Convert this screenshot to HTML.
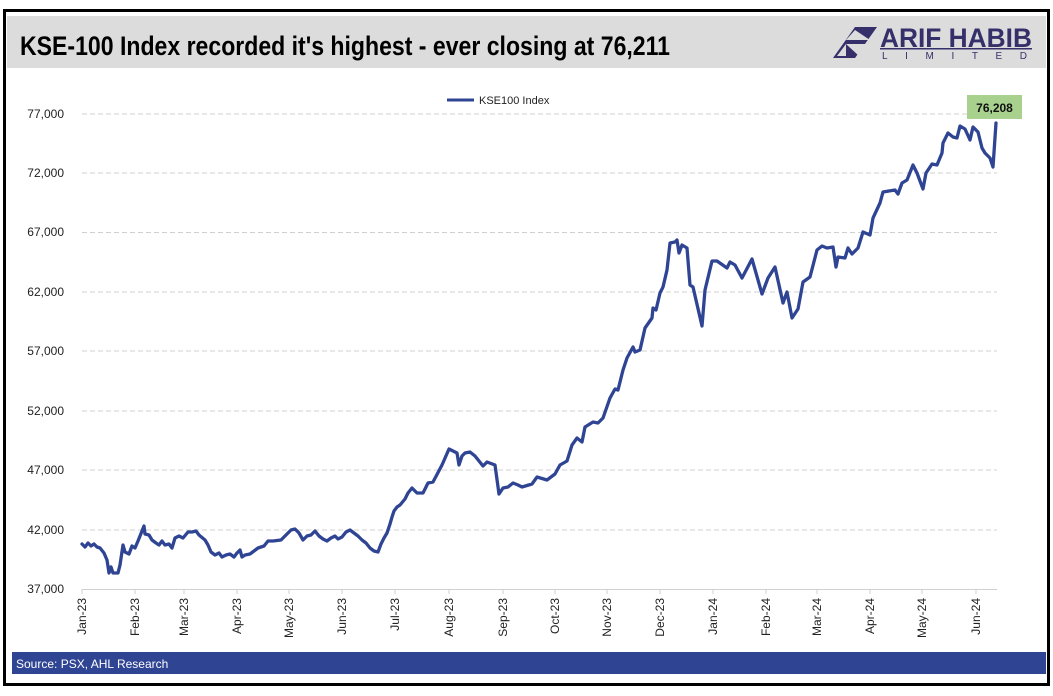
<!DOCTYPE html>
<html><head><meta charset="utf-8"><style>
body{margin:0;background:#fff;width:1053px;height:691px;overflow:hidden;font-family:"Liberation Sans",sans-serif}
</style></head><body>
<svg width="1053" height="691" viewBox="0 0 1053 691" xmlns="http://www.w3.org/2000/svg" font-family="Liberation Sans, sans-serif">
<rect x="0" y="0" width="1053" height="691" fill="#fff"/>
<rect x="4.5" y="10.5" width="1044" height="674" fill="#fff" stroke="#000" stroke-width="3"/>
<rect x="7" y="16" width="1039" height="52" fill="#dcdcdc"/>
<text x="20" y="55" font-size="27" font-weight="bold" fill="#000" textLength="650" lengthAdjust="spacingAndGlyphs">KSE-100 Index recorded it's highest - ever closing at 76,211</text>
<!-- logo -->
<polygon points="833,58 855,27 877,27 855,58" fill="#35306a"/>
<polygon points="846,40 855,30 870,40" fill="#dcdcdc"/>
<polygon points="846,44 870,44 859,56" fill="#dcdcdc"/>
<polygon points="837,56 846,44 846,56" fill="#dcdcdc"/>
<text x="880" y="47" font-size="27" font-weight="bold" fill="#35306a" textLength="152" lengthAdjust="spacingAndGlyphs">ARIF HABIB</text>
<rect x="880" y="48" width="152" height="1.5" fill="#35306a"/>
<text x="882" y="59" font-size="10" fill="#35306a" textLength="145" lengthAdjust="spacing">LIMITED</text>
<!-- grid -->
<g stroke="#d0d0d0" stroke-dasharray="5,3" stroke-width="1">
<line x1="82" y1="114" x2="997" y2="114"/><line x1="82" y1="173" x2="997" y2="173"/><line x1="82" y1="232.5" x2="997" y2="232.5"/><line x1="82" y1="292" x2="997" y2="292"/><line x1="82" y1="351" x2="997" y2="351"/><line x1="82" y1="411" x2="997" y2="411"/><line x1="82" y1="470" x2="997" y2="470"/><line x1="82" y1="530" x2="997" y2="530"/>
</g>
<line x1="82" y1="589.5" x2="997" y2="589.5" stroke="#d0d0d0"/>
<g stroke="#d0d0d0"><line x1="82" y1="589" x2="82" y2="594"/><line x1="135" y1="589" x2="135" y2="594"/><line x1="184" y1="589" x2="184" y2="594"/><line x1="237" y1="589" x2="237" y2="594"/><line x1="289" y1="589" x2="289" y2="594"/><line x1="342" y1="589" x2="342" y2="594"/><line x1="395" y1="589" x2="395" y2="594"/><line x1="449" y1="589" x2="449" y2="594"/><line x1="503" y1="589" x2="503" y2="594"/><line x1="555" y1="589" x2="555" y2="594"/><line x1="607" y1="589" x2="607" y2="594"/><line x1="660" y1="589" x2="660" y2="594"/><line x1="713" y1="589" x2="713" y2="594"/><line x1="766" y1="589" x2="766" y2="594"/><line x1="817" y1="589" x2="817" y2="594"/><line x1="870" y1="589" x2="870" y2="594"/><line x1="922" y1="589" x2="922" y2="594"/><line x1="976" y1="589" x2="976" y2="594"/></g>
<g font-size="12" fill="#222" text-anchor="end">
<text x="64" y="118">77,000</text><text x="64" y="177">72,000</text><text x="64" y="236">67,000</text><text x="64" y="296">62,000</text><text x="64" y="355">57,000</text><text x="64" y="415">52,000</text><text x="64" y="474">47,000</text><text x="64" y="534">42,000</text><text x="64" y="593">37,000</text>
</g>
<g font-size="12" fill="#222" text-anchor="end">
<text transform="translate(86,598) rotate(-90)">Jan-23</text><text transform="translate(139,598) rotate(-90)">Feb-23</text><text transform="translate(188,598) rotate(-90)">Mar-23</text><text transform="translate(241,598) rotate(-90)">Apr-23</text><text transform="translate(293,598) rotate(-90)">May-23</text><text transform="translate(346,598) rotate(-90)">Jun-23</text><text transform="translate(399,598) rotate(-90)">Jul-23</text><text transform="translate(453,598) rotate(-90)">Aug-23</text><text transform="translate(507,598) rotate(-90)">Sep-23</text><text transform="translate(559,598) rotate(-90)">Oct-23</text><text transform="translate(611,598) rotate(-90)">Nov-23</text><text transform="translate(664,598) rotate(-90)">Dec-23</text><text transform="translate(717,598) rotate(-90)">Jan-24</text><text transform="translate(770,598) rotate(-90)">Feb-24</text><text transform="translate(821,598) rotate(-90)">Mar-24</text><text transform="translate(874,598) rotate(-90)">Apr-24</text><text transform="translate(926,598) rotate(-90)">May-24</text><text transform="translate(980,598) rotate(-90)">Jun-24</text>
</g>
<line x1="447" y1="100" x2="474" y2="100" stroke="#2f4594" stroke-width="3"/>
<text x="479" y="104" font-size="11" fill="#222">KSE100 Index</text>
<rect x="967" y="95" width="55" height="24" fill="#a9d18e"/>
<text x="994.5" y="112" font-size="12" font-weight="bold" fill="#111" text-anchor="middle">76,208</text>
<polyline fill="none" stroke="#2f4594" stroke-width="3.3" stroke-linejoin="round" stroke-linecap="round" points="82,544 85,547 88,543 91,546 94,544 97,547 100,548 104,553 107,560 109,573 111,567 113,573 118,573 120,565 123,545 125,552 129,554 132,546 135,548 138,541 142,531 144,526 145,534 149,535 152,540 156,543 159,545 162,541 165,545 169,544 172,548 175,538 179,536 183,538 188,532 192,532 196,531 199,535 205,540 208,545 211,552 215,555 219,553 222,557 226,555 230,554 234,557 237,553 240,550 242,557 245,555 250,554 254,551 258,548 264,546 268,541 273,541 281,540 285,536 291,530 295,529 299,533 303,540 307,536 311,535 315,531 319,536 323,539 327,541 331,538 335,536 338,539 342,537 346,532 350,530 354,533 358,536 362,540 366,543 370,548 374,551 378,552 381,544 384,538 387,533 390,524 392,517 394,511 397,507 400,505 405,499 408,493 412,488 417,493 423,493 428,483 433,482 442,465 449,449 457,453 459,465 462,456 465,453 470,452 475,456 483,466 487,462 495,465 499,494 503,488 508,487 513,483 518,485 522,487 532,484 537,477 547,480 555,474 560,465 567,461 572,445 577,438 582,442 585,427 593,422 598,423 603,418 610,398 615,389 618,390 623,370 627,358 633,347 635,352 640,350 645,328 652,318 653,308 656,310 660,293 663,287 667,270 670,243 675,242 677,240 679,253 682,245 687,248 690,285 693,287 702,326 705,290 712,261 717,261 727,268 730,262 735,265 742,278 752,259 762,294 768,278 775,267 783,303 787,292 792,318 798,309 803,282 810,277 817,250 822,246 827,248 833,247 836,267 838,257 845,258 848,248 852,254 858,248 863,232 870,235 873,218 880,203 883,192 895,190 898,194 902,183 907,180 913,165 917,173 923,189 926,173 932,164 937,165 942,153 943,143 948,133 953,137 957,138 960,126 965,129 970,140 973,127 978,132 982,148 985,153 990,158 993,167 996,123"/>
<rect x="12" y="652" width="1034" height="22" fill="#2f4594"/>
<text x="16" y="668" font-size="12" fill="#fff">Source: PSX, AHL Research</text>
</svg>
</body></html>
